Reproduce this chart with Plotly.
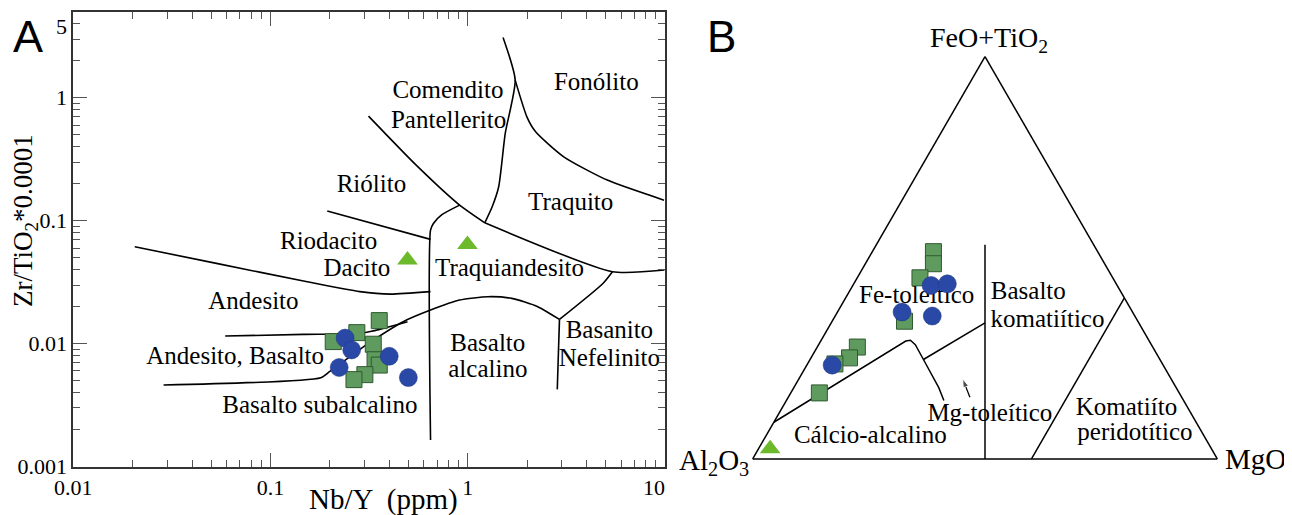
import math
import plotly.graph_objects as go

# ---------------- Panel A: Zr/TiO2 vs Nb/Y (log-log) ----------------
nby_sq = [0.356, 0.274, 0.208, 0.332, 0.339, 0.356, 0.301, 0.265]
zrti_sq = [0.0154, 0.0123, 0.0104, 0.0099, 0.0074, 0.0067, 0.0056, 0.0051]
nby_ci = [0.239, 0.258, 0.400, 0.223, 0.500]
zrti_ci = [0.0111, 0.0089, 0.0079, 0.0064, 0.0053]
nby_tr = [0.495, 0.997]
zrti_tr = [0.0479, 0.0642]

# field boundaries (Nb/Y, Zr/TiO2)
b_and_dac_x = [0.0205, 0.0532, 0.147, 0.284, 0.405, 0.648]
b_and_dac_y = [0.0614, 0.045, 0.0323, 0.0265, 0.0253, 0.0265]
b_rio_dac_x = [0.194, 0.648]
b_rio_dac_y = [0.1198, 0.0705]
b_vert_x = [0.648, 0.648, 0.67, 0.74, 0.91]
b_vert_y = [0.00165, 0.0839, 0.095, 0.112, 0.134]
b_com_rio_x = [0.314, 0.548, 0.91, 1.221]
b_com_rio_y = [0.709, 0.283, 0.134, 0.0962]
b_com_tra_x = [1.221, 1.331, 1.436, 1.55, 1.741, 1.511]
b_com_tra_y = [0.0962, 0.13, 0.189, 0.513, 1.391, 3.09]
b_fon_tra_x = [1.741, 1.996, 2.21, 3.07, 5.1, 9.9]
b_fon_tra_y = [1.391, 0.70, 0.529, 0.331, 0.214, 0.147]
b_tra_tan_x = [1.221, 5.42, 9.95]
b_tra_tan_y = [0.0962, 0.0385, 0.0397]
b_tan_bas_x = [5.42, 4.85, 2.92]
b_tan_bas_y = [0.0385, 0.0309, 0.01576]
b_alk_x = [0.0287, 0.18, 0.199, 0.314, 0.471, 0.648, 0.91, 1.265, 1.672, 2.266, 2.92]
b_alk_y = [0.00461, 0.00529, 0.00592, 0.01006, 0.0151, 0.01877, 0.02264, 0.0241, 0.02335, 0.020, 0.01576]
b_andbas_x = [0.0589, 0.147, 0.298, 0.495]
b_andbas_y = [0.01154, 0.0119, 0.01228, 0.0151]
b_bsn_x = [2.92, 2.846]
b_bsn_y = [0.01576, 0.00425]

labA_text = ["Comendito", "Pantellerito", "Fonólito", "Riólito", "Traquito", "Riodacito",
             "Dacito", "Traquiandesito", "Andesito", "Andesito, Basalto", "Basalto",
             "alcalino", "Basanito", "Nefelinito", "Basalto subalcalino"]
labA_x = [0.794, 0.80, 4.49, 0.325, 3.33, 0.197, 0.274, 1.63, 0.0819, 0.0662, 1.265,
          1.265, 5.23, 5.23, 0.178]
labA_y = [1.118, 0.638, 1.307, 0.1925, 0.1365, 0.0666, 0.0397, 0.0397, 0.02167, 0.00774,
          0.00975, 0.00599, 0.01252, 0.00736, 0.00307]

NB = "\u00a0"
x_major = [0.01, 0.1, 1, 10]
x_major_txt = ["0.01", "0.1", "1", "10" + NB * 4]
y_major = [0.001, 0.01, 0.1, 1, 5]
y_major_txt = ["0.001", "0.01", "0.1", "1", "<br>5"]
x_minor = [m * d for d in (0.01, 0.1, 1) for m in range(2, 10)]
y_minor = [m * d for d in (0.001, 0.01, 0.1) for m in range(2, 10)] + [2, 3, 4]

# ---------------- Panel B: ternary FeO+TiO2 / Al2O3 / MgO ----------------
fe_sq = [0.515, 0.485, 0.450, 0.342, 0.278, 0.251, 0.236, 0.164]
al_sq = [0.3535, 0.3685, 0.415, 0.502, 0.636, 0.666, 0.705, 0.7745]
mg_sq = [0.1315, 0.1465, 0.135, 0.1556, 0.0863, 0.0829, 0.059, 0.0615]
fe_ci = [0.431, 0.435, 0.365, 0.355, 0.233]
al_ci = [0.4005, 0.3635, 0.496, 0.436, 0.7125]
mg_ci = [0.1685, 0.2015, 0.139, 0.209, 0.0545]
fe_tr = [0.025]
al_tr = [0.95]
mg_tr = [0.025]

t_vert_a = [0.0, 0.532]
t_vert_b = [0.5, 0.234]
t_vert_c = [0.5, 0.234]
t_kom_a = [0.4, 0.0]
t_kom_b = [0.0, 0.4]
t_kom_c = [0.6, 0.6]
t_calc_a = [0.091, 0.293, 0.295, 0.284, 0.247, 0.177, 0.145]
t_calc_b = [0.909, 0.524, 0.513, 0.508, 0.509, 0.511, 0.516]
t_calc_c = [0.0, 0.183, 0.192, 0.208, 0.244, 0.312, 0.339]
t_mg_a = [0.247, 0.338]
t_mg_b = [0.509, 0.331]
t_mg_c = [0.244, 0.331]
t_arrow_a = [0.153, 0.199]
t_arrow_b = [0.456, 0.4485]
t_arrow_c = [0.391, 0.3525]

labB_text = ["Fe-toleítico", "Mg-toleítico", "Cálcio-alcalino", "Komatiíto", "peridotítico"]
labB_a = [0.402, 0.110, 0.0547, 0.125, 0.063]
labB_b = [0.446, 0.434, 0.7195, 0.134, 0.145]
labB_c = [0.152, 0.455, 0.2258, 0.746, 0.788]
labB2_text = ["Basalto", "komatiítico"]
labB2_a = [0.413, 0.3425]
labB2_b = [0.281, 0.317]
labB2_c = [0.306, 0.341]

SERIF = "Liberation Serif"
# the page body adds an 8 px margin, so the figure is placed 8 px right/down
OX, OY = 8, 8
W, H = 1292 - OX, 515 - OY


def fx(px):
    return (px - OX) / W


def fy(py):
    return 1 - (py - OY) / H


sq_fill, sq_line = "#5f9a5f", "#2f5a2f"
ci_fill = "#2a48a6"
tr_fill = "#6cba2c"

fig = go.Figure()

line_style = dict(color="black", width=1.6)
for bx, by in [(b_and_dac_x, b_and_dac_y), (b_rio_dac_x, b_rio_dac_y), (b_vert_x, b_vert_y),
               (b_com_rio_x, b_com_rio_y), (b_com_tra_x, b_com_tra_y), (b_fon_tra_x, b_fon_tra_y),
               (b_tra_tan_x, b_tra_tan_y), (b_tan_bas_x, b_tan_bas_y), (b_alk_x, b_alk_y),
               (b_andbas_x, b_andbas_y), (b_bsn_x, b_bsn_y)]:
    fig.add_trace(go.Scatter(x=bx, y=by, mode="lines", line=dict(line_style, shape="spline", smoothing=0.6),
                             hoverinfo="skip"))

fig.add_trace(go.Scatter(x=labA_x, y=labA_y, mode="text", text=labA_text,
                         textfont=dict(family=SERIF, size=25, color="black"), hoverinfo="skip"))

fig.add_trace(go.Scatter(x=nby_sq, y=zrti_sq, mode="markers",
                         marker=dict(symbol="square", size=16, color=sq_fill, line=dict(color=sq_line, width=1))))
fig.add_trace(go.Scatter(x=nby_ci, y=zrti_ci, mode="markers",
                         marker=dict(symbol="circle", size=18, color=ci_fill, line=dict(color="#1d3580", width=0.5))))
fig.add_trace(go.Scatter(x=nby_tr, y=zrti_tr, mode="markers",
                         marker=dict(symbol="triangle-up", size=18, color=tr_fill, line=dict(width=0))))

# ternary traces
tline = dict(color="black", width=1.5)
for ta, tb, tc in [(t_vert_a, t_vert_b, t_vert_c), (t_kom_a, t_kom_b, t_kom_c),
                   (t_calc_a, t_calc_b, t_calc_c), (t_mg_a, t_mg_b, t_mg_c)]:
    fig.add_trace(go.Scatterternary(a=ta, b=tb, c=tc, mode="lines", line=tline, hoverinfo="skip"))
fig.add_trace(go.Scatterternary(a=t_arrow_a, b=t_arrow_b, c=t_arrow_c, mode="lines+markers",
                                line=dict(color="black", width=1.3),
                                marker=dict(symbol="arrow", size=[0, 9], color="black", angleref="previous"),
                                hoverinfo="skip"))
fig.add_trace(go.Scatterternary(a=labB_a, b=labB_b, c=labB_c, mode="text", text=labB_text,
                                textfont=dict(family=SERIF, size=25, color="black"), hoverinfo="skip"))
fig.add_trace(go.Scatterternary(a=labB2_a, b=labB2_b, c=labB2_c, mode="text", text=labB2_text,
                                textposition="middle right",
                                textfont=dict(family=SERIF, size=25, color="black"), hoverinfo="skip"))
fig.add_trace(go.Scatterternary(a=fe_sq, b=al_sq, c=mg_sq, mode="markers",
                                marker=dict(symbol="square", size=16, color=sq_fill, line=dict(color=sq_line, width=1))))
fig.add_trace(go.Scatterternary(a=fe_ci, b=al_ci, c=mg_ci, mode="markers",
                                marker=dict(symbol="circle", size=18, color=ci_fill, line=dict(color="#1d3580", width=0.5))))
fig.add_trace(go.Scatterternary(a=fe_tr, b=al_tr, c=mg_tr, mode="markers", cliponaxis=False,
                                marker=dict(symbol="triangle-up", size=18, color=tr_fill, line=dict(width=0))))

tick_font = dict(family=SERIF, size=22, color="black")
common_ax = dict(type="log", showgrid=False, zeroline=False, showline=True, linecolor="#333333",
                 linewidth=2, mirror="ticks", ticks="inside", ticklen=14, tickwidth=1,
                 tickcolor="#555555", tickfont=tick_font, automargin=False)

tern_ax = dict(showgrid=False, showticklabels=False, ticks="", linecolor="black", linewidth=1.5,
               title=dict(text=""), min=0)

# ternary: equilateral triangle with vertices at (752.7,458), (1217.3,458), (985,57.3) page px
tcx = fx(985.0)
tcy = fy(257.7)
tw = 464.6 / W

fig.update_layout(
    width=W, height=H, margin=dict(l=0, r=0, t=0, b=0, autoexpand=False),
    paper_bgcolor="white", plot_bgcolor="white", showlegend=False,
    xaxis=dict(common_ax, domain=[fx(73.3), fx(665.0)], range=[-2, 1.0005],
               tickvals=x_major, ticktext=x_major_txt,
               minor=dict(tickvals=x_minor, ticks="inside", ticklen=7, tickwidth=1,
                          tickcolor="#555555", showgrid=False)),
    yaxis=dict(common_ax, domain=[fy(466.7), fy(11.7)], range=[-3.0005, math.log10(5) + 0.001],
               tickvals=y_major, ticktext=y_major_txt,
               minor=dict(tickvals=y_minor, ticks="inside", ticklen=7, tickwidth=1,
                          tickcolor="#555555", showgrid=False)),
    ternary=dict(domain=dict(x=[tcx - tw / 2, tcx + tw / 2], y=[tcy - 0.405, tcy + 0.405]),
                 sum=1, bgcolor="white",
                 aaxis=tern_ax, baxis=tern_ax, caxis=tern_ax),
)


def ann(text, px, py, size, family=SERIF, xanchor="center", yanchor="middle", angle=0):
    fig.add_annotation(text=text, x=fx(px), y=fy(py), xref="paper", yref="paper",
                       xanchor=xanchor, yanchor=yanchor, showarrow=False, textangle=angle,
                       font=dict(family=family, size=size, color="black"))


ann("A", 28, 37, 45, family="Liberation Sans")
ann("B", 721, 37, 44, family="Liberation Sans")
ann("Nb/Y  (ppm)", 384, 499, 29)
ann("Zr/TiO<sub>2</sub>*0.0001", 25, 221, 27, angle=-90)
ann("FeO+TiO<sub>2</sub>", 989, 40, 28)
ann("Al<sub>2</sub>O<sub>3</sub>", 751, 462, 29, xanchor="right")
ann("MgO", 1223, 459, 29, xanchor="left")

fig.write_html("out.html")
